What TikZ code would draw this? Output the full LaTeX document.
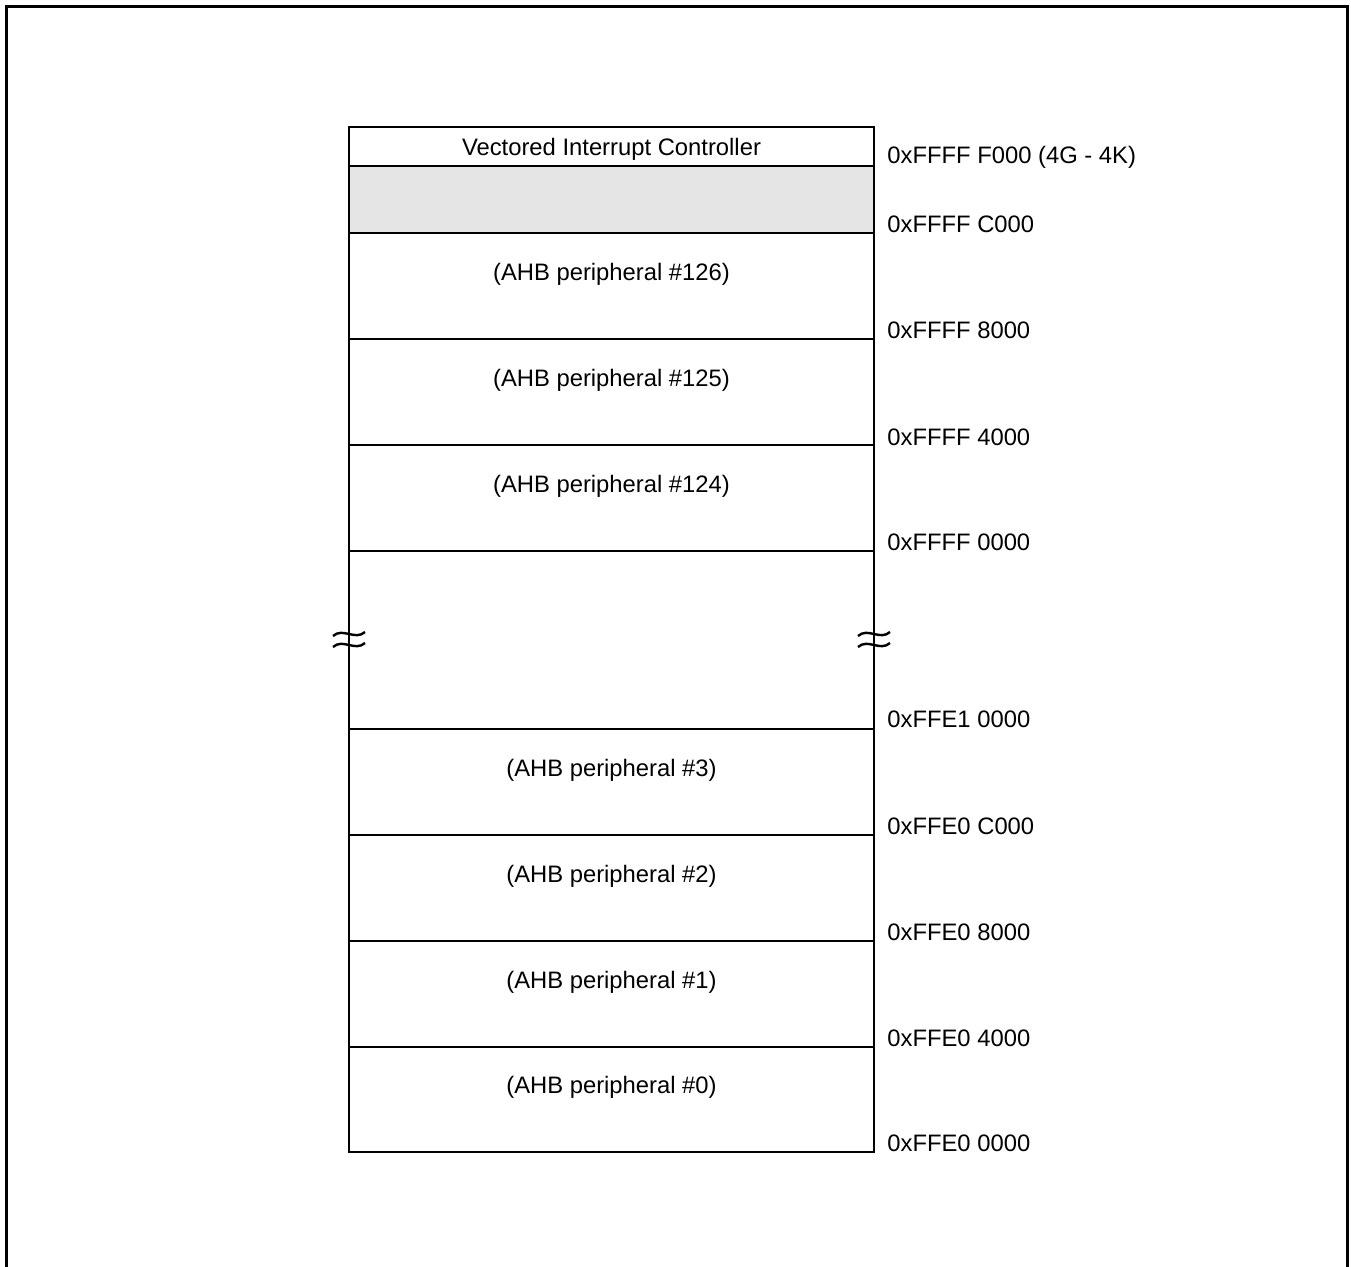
\documentclass[tikz,border=0pt]{standalone}
\usepackage{fontspec}
\setmainfont{Liberation Sans}
\begin{document}
\begin{tikzpicture}[x=0.5pt,y=-0.5pt,
  every node/.style={font=\fontsize{11.9}{14}\selectfont, inner sep=0pt},
  blocktext/.style={anchor=center},
  addr/.style={anchor=west},
  divider/.style={line width=1pt},
  border/.style={line width=1.4pt},
  frame/.style={line width=1.5pt},
  wave/.style={line width=1.2pt}]
\useasboundingbox (0,0) rectangle (1351,1267);
% outer frame
\draw[frame] (6.5,1267) -- (6.5,6.5) -- (1347.5,6.5) -- (1347.5,1267);
% gray reserved area
\fill[gray!20] (349,166) rectangle (874,233);
% dividers
\foreach \y in {166,233,339,445,551,729,835,941,1047}
  \draw[divider] (349,\y) -- (874,\y);
% box border
\draw[border] (349,127) rectangle (874,1152);
% block texts
\node[blocktext] (vic) at (611.5,149) {Vectored Interrupt Controller};
\node[blocktext] (p126) at (611.5,274) {(AHB peripheral \#126)};
\node[blocktext] (p125) at (611.5,380) {(AHB peripheral \#125)};
\node[blocktext] (p124) at (611.5,486) {(AHB peripheral \#124)};
\node[blocktext] (p3) at (611.5,770) {(AHB peripheral \#3)};
\node[blocktext] (p2) at (611.5,876) {(AHB peripheral \#2)};
\node[blocktext] (p1) at (611.5,982) {(AHB peripheral \#1)};
\node[blocktext] (p0) at (611.5,1087) {(AHB peripheral \#0)};
% address labels
\node[addr] (a1) at (887,157) {0xFFFF F000 (4G - 4K)};
\node[addr] (a2) at (887,224) {0xFFFF C000};
\node[addr] (a3) at (887,330) {0xFFFF 8000};
\node[addr] (a4) at (887,437) {0xFFFF 4000};
\node[addr] (a5) at (887,542) {0xFFFF 0000};
\node[addr] (a6) at (887,719) {0xFFE1 0000};
\node[addr] (a7) at (887,826) {0xFFE0 C000};
\node[addr] (a8) at (887,932) {0xFFE0 8000};
\node[addr] (a9) at (887,1038) {0xFFE0 4000};
\node[addr] (a10) at (887,1143) {0xFFE0 0000};
% break marks
\foreach \x in {349,874} {
  \foreach \dy in {634,645}
    \draw[wave] (\x-16,\dy+2) .. controls (\x-6,\dy-7) and (\x+6,\dy+7) .. (\x+16,\dy-2);
}
\end{tikzpicture}
\end{document}
